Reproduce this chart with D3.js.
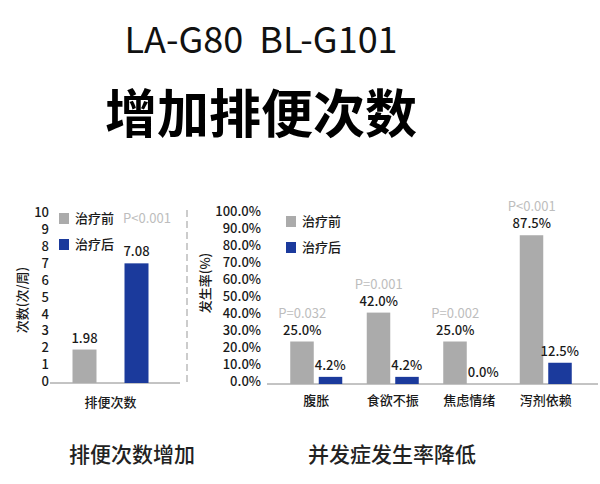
<!DOCTYPE html>
<html>
<head>
<meta charset="utf-8">
<script src="https://d3js.org/d3.v7.min.js"></script>
<style>
body { margin: 0; background: #fff; }
text { font-family: "Noto Sans CJK SC", "Noto Sans", sans-serif; }
</style>
</head>
<body>
<script>
// data
var legendNames = ["治疗前", "治疗后"];
var stoolCats = ["排便次数"];
var stoolBefore = [1.98];
var stoolAfter = [7.08];
var stoolTicks = [0, 1, 2, 3, 4, 5, 6, 7, 8, 9, 10];
var stoolP = "P<0.001";

var compCats = ["腹胀", "食欲不振", "焦虑情绪", "泻剂依赖"];
var compBefore = [25.0, 42.0, 25.0, 87.5];
var compAfter = [4.2, 4.2, 0.0, 12.5];
var compP = ["P=0.032", "P=0.001", "P=0.002", "P<0.001"];
var compTicks = [0, 10, 20, 30, 40, 50, 60, 70, 80, 90, 100];

var width = 600, height = 484;
var gray = "#ababab", blue = "#1b3a9c", pGray = "#bdbdbd", ink = "#1a1a1a";

var svg = d3.select("body").append("svg")
  .attr("width", width).attr("height", height);

// titles
svg.append("text").attr("x", 261).attr("y", 53)
  .attr("text-anchor", "middle").attr("font-size", 36).attr("font-weight", 400)
  .attr("fill", "#111").style("white-space", "pre").text("LA-G80  BL-G101");
svg.append("text").attr("x", 261).attr("y", 133)
  .attr("text-anchor", "middle").attr("font-size", 52).attr("font-weight", 700)
  .attr("fill", "#000").text("增加排便次数");

svg.append("text").attr("x", 132).attr("y", 462)
  .attr("text-anchor", "middle").attr("font-size", 21).attr("font-weight", 500)
  .attr("fill", "#222").text("排便次数增加");
svg.append("text").attr("x", 392).attr("y", 462)
  .attr("text-anchor", "middle").attr("font-size", 21).attr("font-weight", 500)
  .attr("fill", "#222").text("并发症发生率降低");

// separator
svg.append("line").attr("x1", 187).attr("x2", 187).attr("y1", 210).attr("y2", 386)
  .attr("stroke", "#999").attr("stroke-width", 1).attr("stroke-dasharray", "7,4");

function legend(x, y) {
  var lg = svg.append("g").attr("transform", "translate(" + x + "," + y + ")");
  legendNames.forEach(function(n, i) {
    lg.append("rect").attr("x", 0).attr("y", i * 26 - 5).attr("width", 10).attr("height", 11)
      .attr("fill", i === 0 ? gray : blue);
    lg.append("text").attr("x", 16).attr("y", i * 26 + 5).attr("font-size", 13)
      .attr("font-weight", 500).attr("fill", ink).text(n);
  });
}

function styleTicks(sel, dy) {
  sel.select(".domain").remove();
  sel.selectAll("text").attr("font-size", 13).attr("fill", ink)
    .attr("font-weight", 500).attr("dy", dy)
    .attr("font-family", "Noto Sans, sans-serif");
}

// left chart
var y1 = d3.scaleLinear().domain([0, 10]).range([383, 214]);
var x1 = d3.scaleBand().domain(stoolCats).range([50, 171]);
var g1 = svg.append("g");
g1.append("g").attr("transform", "translate(49,0)")
  .call(d3.axisLeft(y1).tickValues(stoolTicks).tickSize(0).tickPadding(0))
  .call(styleTicks, "0.2em");
g1.append("line").attr("x1", 50).attr("x2", 180).attr("y1", y1(0)).attr("y2", y1(0))
  .attr("stroke", "#888").attr("stroke-width", 1);
stoolCats.forEach(function(c, i) {
  var cx = x1(c) + x1.bandwidth() / 2;
  g1.append("rect").attr("x", cx - 38).attr("width", 24)
    .attr("y", y1(stoolBefore[i])).attr("height", y1(0) - y1(stoolBefore[i])).attr("fill", gray);
  g1.append("rect").attr("x", cx + 14).attr("width", 24)
    .attr("y", y1(stoolAfter[i])).attr("height", y1(0) - y1(stoolAfter[i])).attr("fill", blue);
  g1.append("text").attr("x", cx - 26).attr("y", y1(stoolBefore[i]) - 7)
    .attr("text-anchor", "middle").attr("font-size", 13).attr("font-weight", 500)
    .attr("fill", ink).text(stoolBefore[i].toFixed(2));
  g1.append("text").attr("x", cx + 26).attr("y", y1(stoolAfter[i]) - 7)
    .attr("text-anchor", "middle").attr("font-size", 13).attr("font-weight", 500)
    .attr("fill", ink).text(stoolAfter[i].toFixed(2));
  g1.append("text").attr("x", cx).attr("y", 407)
    .attr("text-anchor", "middle").attr("font-size", 13).attr("font-weight", 500)
    .attr("fill", ink).text(c);
});
g1.append("text").attr("x", 123).attr("y", 223).attr("font-size", 13)
  .attr("fill", pGray).text(stoolP);
g1.append("text").attr("transform", "translate(27,300) rotate(-90)")
  .attr("text-anchor", "middle").attr("font-size", 13).attr("font-weight", 500)
  .attr("fill", ink).text("次数(次/周)");
legend(59, 218);

// right chart
var y2 = d3.scaleLinear().domain([0, 100]).range([384, 214]);
var x2 = d3.scaleBand().domain(compCats).range([278, 584]);
var g2 = svg.append("g");
g2.append("g").attr("transform", "translate(261,0)")
  .call(d3.axisLeft(y2).tickValues(compTicks).tickSize(0).tickPadding(0)
    .tickFormat(function(d) { return d.toFixed(1) + "%"; }))
  .call(styleTicks, "0.1em");
g2.append("line").attr("x1", 267).attr("x2", 598).attr("y1", y2(0)).attr("y2", y2(0))
  .attr("stroke", "#888").attr("stroke-width", 1);
compCats.forEach(function(c, i) {
  var cx = x2(c) + x2.bandwidth() / 2;
  g2.append("rect").attr("x", cx - 26).attr("width", 23.5)
    .attr("y", y2(compBefore[i])).attr("height", y2(0) - y2(compBefore[i])).attr("fill", gray);
  g2.append("rect").attr("x", cx + 2.5).attr("width", 23.5)
    .attr("y", y2(compAfter[i])).attr("height", y2(0) - y2(compAfter[i])).attr("fill", blue);
  g2.append("text").attr("x", cx - 14).attr("y", y2(compBefore[i]) - 7)
    .attr("text-anchor", "middle").attr("font-size", 13).attr("font-weight", 500)
    .attr("fill", ink).text(compBefore[i].toFixed(1) + "%");
  g2.append("text").attr("x", cx + 14).attr("y", y2(compAfter[i]) - 7)
    .attr("text-anchor", "middle").attr("font-size", 13).attr("font-weight", 500)
    .attr("fill", ink).text(compAfter[i].toFixed(1) + "%");
  g2.append("text").attr("x", cx - 14).attr("y", y2(compBefore[i]) - 24)
    .attr("text-anchor", "middle").attr("font-size", 13).attr("fill", pGray).text(compP[i]);
  g2.append("text").attr("x", cx).attr("y", 405)
    .attr("text-anchor", "middle").attr("font-size", 13).attr("font-weight", 500)
    .attr("fill", ink).text(c);
});
g2.append("text").attr("transform", "translate(210,283) rotate(-90)")
  .attr("text-anchor", "middle").attr("font-size", 13).attr("font-weight", 500)
  .attr("fill", ink).text("发生率(%)");
legend(286, 221);
</script>
</body>
</html>
